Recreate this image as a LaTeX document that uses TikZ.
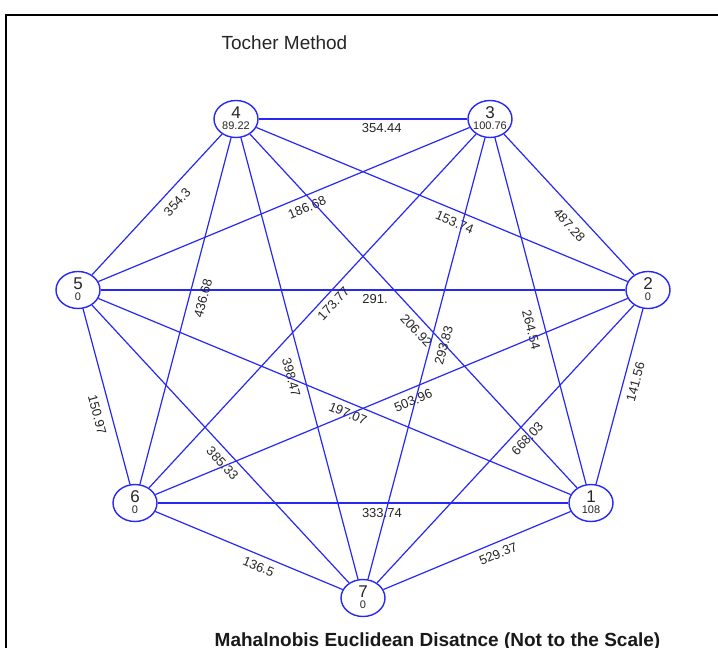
\documentclass[tikz,border=0pt]{standalone}
\usepackage{fontspec}
\setmainfont{Liberation Sans}
\usetikzlibrary{shapes.geometric}
\definecolor{edgeblue}{RGB}{40,40,245}
\begin{document}
\begin{tikzpicture}[x=1pt,y=-1pt,
  vert/.style={draw=edgeblue, line width=1.4pt, ellipse, minimum width=44pt, minimum height=37pt, inner sep=0pt},
  num/.style={font=\fontsize{17}{17}\selectfont, text=black!85, inner sep=0pt},
  val/.style={font=\fontsize{11}{11}\selectfont, text=black!85, inner sep=0pt},
  conn/.style={draw=edgeblue, line width=1.2pt},
  wt/.style={sloped, inner sep=1pt, font=\fontsize{13}{13}\selectfont, text=black!85}]
\useasboundingbox (0,0) rectangle (718,648);
\fill[white] (0,0) rectangle (718,648);
\begin{scope}
\clip (0,0) rectangle (718,648);
\draw[line width=1.8pt, black] (6,660) -- (6,15) -- (730,15);
\end{scope}
\node[font=\fontsize{19}{19}\selectfont, text=black!85] (title) at (284.5,43) {Tocher Method};
\node[font=\bfseries\fontsize{19}{19}\selectfont, text=black!90, anchor=base] (foot) at (437.5,646) {Mahalnobis Euclidean Disatnce (Not to the Scale)};
\node[vert, label={[num, yshift=6pt]center:4}, label={[val, yshift=-7pt]center:89.22}] (n4) at (236,119) {};
\node[vert, label={[num, yshift=6pt]center:3}, label={[val, yshift=-7pt]center:100.76}] (n3) at (490,119) {};
\node[vert, label={[num, yshift=6pt]center:5}, label={[val, yshift=-7pt]center:0}] (n5) at (78,290) {};
\node[vert, label={[num, yshift=6pt]center:2}, label={[val, yshift=-7pt]center:0}] (n2) at (648,290) {};
\node[vert, label={[num, yshift=6pt]center:6}, label={[val, yshift=-7pt]center:0}] (n6) at (135,503) {};
\node[vert, label={[num, yshift=6pt]center:1}, label={[val, yshift=-7pt]center:108}] (n1) at (591,503) {};
\node[vert, label={[num, yshift=6pt]center:7}, label={[val, yshift=-7pt]center:0}] (n7) at (363,598) {};
\path[conn] (n5) -- node[wt, pos=0.58, below=7pt] {354.3} (n4);
\path[conn] (n4) -- node[wt, pos=0.59, below=2.5pt] {354.44} (n3);
\path[conn] (n5) -- node[wt, pos=0.55, below=5.5pt] {186.68} (n3);
\path[conn] (n4) -- node[wt, pos=0.546, below=5.5pt] {153.74} (n2);
\path[conn] (n3) -- node[wt, pos=0.58, below=7.5pt] {487.28} (n2);
\path[conn] (n5) -- node[wt, pos=0.523, below=2.5pt] {291.} (n2);
\path[conn] (n6) -- node[wt, pos=0.547, below=7.5pt] {436.68} (n4);
\path[conn] (n6) -- node[wt, pos=0.541, below=4pt] {173.77} (n3);
\path[conn] (n4) -- node[wt, pos=0.534, below=5pt] {206.92} (n1);
\path[conn] (n7) -- node[wt, pos=0.538, below=7pt] {293.83} (n3);
\path[conn] (n3) -- node[wt, pos=0.545, below=7.5pt] {264.54} (n1);
\path[conn] (n1) -- node[wt, pos=0.6, below=5.5pt] {141.56} (n2);
\path[conn] (n4) -- node[wt, pos=0.535, below=6.5pt] {398.47} (n7);
\path[conn] (n5) -- node[wt, pos=0.537, below=4.5pt] {197.07} (n1);
\path[conn] (n6) -- node[wt, pos=0.536, below=6pt] {503.96} (n2);
\path[conn] (n5) -- node[wt, pos=0.585, below=7.5pt] {150.97} (n6);
\path[conn] (n5) -- node[wt, pos=0.541, below=5.5pt] {385.33} (n7);
\path[conn] (n7) -- node[wt, pos=0.55, below=6pt] {668.03} (n2);
\path[conn] (n6) -- node[wt, pos=0.546, below=3.5pt] {333.74} (n1);
\path[conn] (n6) -- node[wt, pos=0.574, below=5pt] {136.5} (n7);
\path[conn] (n7) -- node[wt, pos=0.59, below=5pt] {529.37} (n1);
\end{tikzpicture}
\end{document}
